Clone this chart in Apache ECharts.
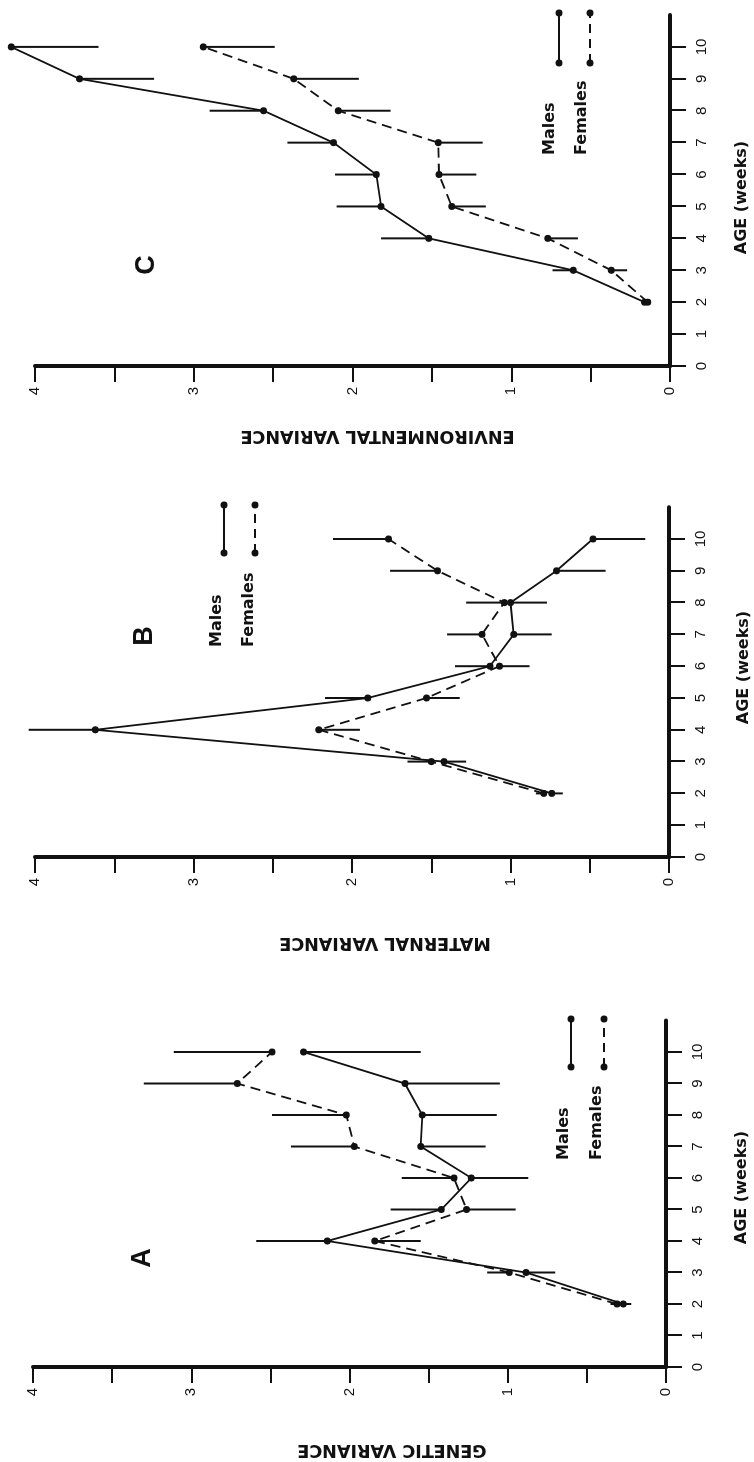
<!DOCTYPE html>
<html>
<head>
<meta charset="utf-8">
<script src="https://cdn.jsdelivr.net/npm/echarts@6/dist/echarts.min.js"></script>
<style>
  html, body { margin: 0; padding: 0; width: 754px; height: 1462px; overflow: hidden; background: #fff; }
  /* The figure is laid out landscape and turned a quarter turn counter-clockwise onto the portrait page. */
  #chart {
    position: absolute; left: 0; top: 0;
    width: 1462px; height: 754px;
    transform-origin: 0 0;
    transform: translate(0, 1462px) rotate(-90deg);
  }
</style>
</head>
<body>
<div id="chart"></div>
<script>
// ---- data ----
const ages = [2, 3, 4, 5, 6, 7, 8, 9, 10];
const ageTicks = [0, 1, 2, 3, 4, 5, 6, 7, 8, 9, 10];
const varianceLabels = [0, 1, 2, 3, 4];
const varianceTicks = [0, 0.5, 1, 1.5, 2, 2.5, 3, 3.5, 4];
const seriesNames = ['Males', 'Females'];
const panelLetters = ['A', 'B', 'C'];
const varianceTitles = ['GENETIC VARIANCE', 'MATERNAL VARIANCE', 'ENVIRONMENTAL VARIANCE'];
const ageTitle = 'AGE (weeks)';

// A: genetic variance (value, and far end of its error bar)
const geneticMales      = [0.27, 0.885, 2.14, 1.42, 1.23, 1.55, 1.54, 1.65, 2.29];
const geneticMalesErr   = [0.22, 0.70, 2.59, 1.74, 0.87, 1.14, 1.07, 1.05, 1.55];
const geneticFemales    = [0.31, 0.99, 1.84, 1.26, 1.34, 1.97, 2.02, 2.71, 2.49];
const geneticFemalesErr = [0.35, 1.13, 1.55, 0.95, 1.67, 2.37, 2.49, 3.30, 3.11];

// B: maternal variance
const maternalMales      = [0.74, 1.42, 3.62, 1.90, 1.13, 0.98, 1.00, 0.71, 0.48];
const maternalMalesErr   = [0.67, 1.28, 4.04, 2.17, 1.35, 0.74, 0.77, 0.40, 0.15];
const maternalFemales    = [0.79, 1.50, 2.21, 1.53, 1.07, 1.18, 1.04, 1.46, 1.77];
const maternalFemalesErr = [0.84, 1.65, 1.95, 1.32, 0.88, 1.40, 1.28, 1.76, 2.12];

// C: environmental variance
const environMales      = [0.16, 0.61, 1.52, 1.82, 1.85, 2.12, 2.56, 3.72, 4.15];
const environMalesErr   = [0.16, 0.74, 1.82, 2.10, 2.11, 2.41, 2.90, 3.25, 3.60];
const environFemales    = [0.14, 0.37, 0.77, 1.375, 1.455, 1.46, 2.09, 2.37, 2.94];
const environFemalesErr = [0.14, 0.27, 0.58, 1.16, 1.22, 1.18, 1.76, 1.96, 2.49];

const panels = [
  { males: geneticMales,  malesErr: geneticMalesErr,  females: geneticFemales,  femalesErr: geneticFemalesErr },
  { males: maternalMales, malesErr: maternalMalesErr, females: maternalFemales, femalesErr: maternalFemalesErr },
  { males: environMales,  malesErr: environMalesErr,  females: environFemales,  femalesErr: environFemalesErr }
];

// ---- layout (landscape coordinates) ----
const layout = [
  { grid: { left: 95,   top: 33, width: 346.5, height: 633 }, letter: [204, 143],  vTitle: [12, 392],   aTitle: [274.5, 742],  legend: { textX: 302,  lineX: [395, 443],   rows: [564, 597],   lines: [571, 604] } },
  { grid: { left: 605,  top: 35, width: 349.8, height: 634 }, letter: [826, 145],  vTitle: [519, 385],  aTitle: [794.5, 744],  legend: { textX: 815,  lineX: [909, 957],   rows: [216.5, 248.5], lines: [224, 255] } },
  { grid: { left: 1096, top: 35, width: 351,   height: 635 }, letter: [1197, 147], vTitle: [1026, 377.5], aTitle: [1264.5, 742], legend: { textX: 1307, lineX: [1399, 1449], rows: [549.5, 581.5], lines: [559, 590] } }
];

const INK = '#111';
const DASH = [10, 6];
const labelFont = 'Liberation Sans';

const grids = [], xAxes = [], yAxes = [], series = [], graphics = [];

function errorBarSeries(idx, values, ends) {
  return {
    type: 'custom',
    xAxisIndex: idx, yAxisIndex: idx,
    clip: false,
    silent: true,
    z: 2,
    encode: { x: 0, y: [1, 2] },
    data: ages.map((a, k) => [a, values[k], ends[k]]),
    renderItem: function (params, api) {
      const p0 = api.coord([api.value(0), api.value(1)]);
      const p1 = api.coord([api.value(0), api.value(2)]);
      return {
        type: 'line',
        shape: { x1: p0[0], y1: p0[1], x2: p1[0], y2: p1[1] },
        style: { stroke: INK, lineWidth: 2 }
      };
    }
  };
}

function lineSeries(idx, name, values, dashed) {
  return {
    type: 'line',
    name: name,
    xAxisIndex: idx, yAxisIndex: idx,
    data: ages.map((a, k) => [a, values[k]]),
    symbol: 'circle',
    symbolSize: 7,
    showAllSymbol: true,
    clip: false,
    z: 3,
    itemStyle: { color: INK },
    lineStyle: { color: INK, width: 1.8, type: dashed ? DASH : 'solid' }
  };
}

panels.forEach((p, i) => {
  const L = layout[i];
  grids.push(L.grid);
  xAxes.push({
    gridIndex: i, type: 'value', min: 0, max: 11, interval: 1,
    axisLine: { show: true, onZero: false, lineStyle: { color: INK, width: 4 } },
    axisTick: { show: true, length: 16, customValues: ageTicks, lineStyle: { color: INK, width: 2 } },
    axisLabel: { customValues: ageTicks, margin: 24, color: INK, fontSize: 15, fontFamily: labelFont },
    splitLine: { show: false }
  });
  yAxes.push({
    gridIndex: i, type: 'value', min: 0, max: 4, interval: 0.5,
    axisLine: { show: true, onZero: false, lineStyle: { color: INK, width: 4 } },
    axisTick: { show: true, length: 16, customValues: varianceTicks, lineStyle: { color: INK, width: 2 } },
    axisLabel: { customValues: varianceLabels, margin: 21, color: INK, fontSize: 15, fontFamily: labelFont },
    splitLine: { show: false }
  });

  series.push(errorBarSeries(i, p.males, p.malesErr));
  series.push(errorBarSeries(i, p.females, p.femalesErr));
  series.push(lineSeries(i, seriesNames[0], p.males, false));
  series.push(lineSeries(i, seriesNames[1], p.females, true));

  // panel letter
  graphics.push({
    type: 'text', x: L.letter[0], y: L.letter[1],
    style: { text: panelLetters[i], font: 'bold 27px "Liberation Sans"', fill: INK, align: 'center', verticalAlign: 'middle' }
  });
  // variance axis title (reads bottom to top)
  graphics.push({
    type: 'text', x: L.vTitle[0], y: L.vTitle[1], rotation: Math.PI / 2,
    style: { text: varianceTitles[i], font: 'bold 17.5px "DejaVu Sans"', fill: INK, align: 'center', verticalAlign: 'middle' }
  });
  // age axis title
  graphics.push({
    type: 'text', x: L.aTitle[0], y: L.aTitle[1],
    style: { text: ageTitle, font: 'bold 16px "DejaVu Sans"', fill: INK, align: 'center', verticalAlign: 'middle' }
  });
  // key: name, then a line sample with end dots
  const lg = L.legend;
  seriesNames.forEach((nm, r) => {
    graphics.push({
      type: 'text', x: lg.textX, y: lg.rows[r],
      style: { text: nm, font: 'bold 16px "DejaVu Sans"', fill: INK, align: 'left', verticalAlign: 'middle' }
    });
    graphics.push({
      type: 'line',
      shape: { x1: lg.lineX[0], y1: lg.lines[r], x2: lg.lineX[1], y2: lg.lines[r] },
      style: { stroke: INK, lineWidth: 2, lineDash: r === 1 ? [9, 6] : null }
    });
    lg.lineX.forEach(cx => {
      graphics.push({ type: 'circle', shape: { cx: cx, cy: lg.lines[r], r: 3.5 }, style: { fill: INK } });
    });
  });
});

const chart = echarts.init(document.getElementById('chart'), null, { renderer: 'canvas' });
chart.setOption({
  animation: false,
  backgroundColor: '#fff',
  grid: grids,
  xAxis: xAxes,
  yAxis: yAxes,
  series: series,
  graphic: { elements: graphics }
});
</script>
</body>
</html>
